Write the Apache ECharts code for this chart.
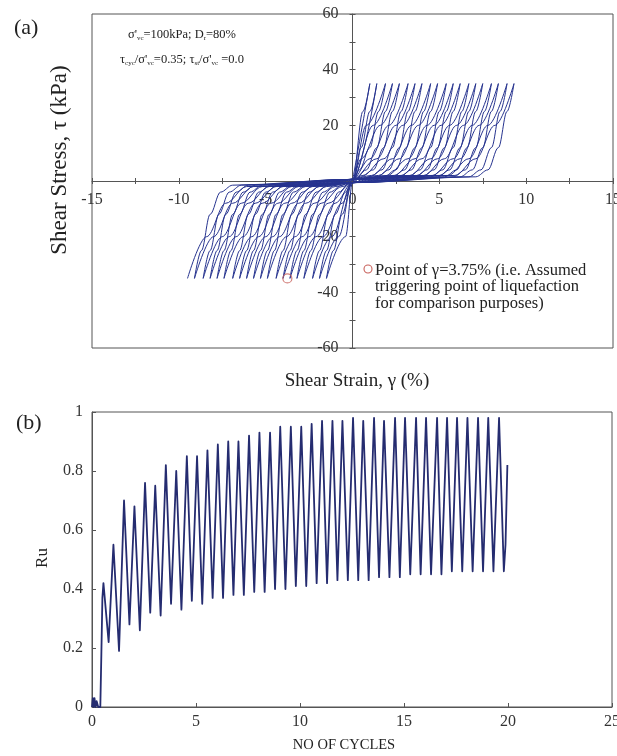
<!DOCTYPE html>
<html>
<head>
<meta charset="utf-8">
<script src="https://cdn.jsdelivr.net/npm/echarts@6/dist/echarts.min.js"></script>
<style>
html,body{margin:0;padding:0;background:#fff;}
#main{width:617px;height:756px;}
</style>
</head>
<body>
<div id="main"></div>
<script>
// ---- (a) shear stress - shear strain loops ----
// strain (%) at each +35 / -35 kPa peak, cycle by cycle
var posPeakStrain = [1.0, 1.4, 1.9, 2.3, 2.7, 3.2, 3.6, 4.0, 4.5, 4.9, 5.4, 5.8, 6.2, 6.7, 7.1, 7.5, 8.0, 8.4, 8.9, 9.3];
var negPeakStrain = [-1.5, -1.9, -2.3, -2.8, -3.2, -3.6, -4.0, -4.4, -4.9, -5.3, -5.7, -6.1, -6.5, -6.9, -7.4, -7.8, -8.2, -8.6, -9.1, -9.5];
// branch shape: strain distance from the peak, |stress|
var leaveDist = [0, 0.4, 0.9, 1.5, 2.2];
var leaveTau = [35, 25, 12, 4, 1.5];
var arriveDist = [3.4, 2.2, 1.1, 0];
var arriveTau = [2, 8, 20, 35];
var zeroCrossTau = 0.6;
var triggerPoint = [[-3.75, -35]];

// ---- (b) Ru - number of cycles ----
var ruStart = [[0, 0], [0.04, 0.03], [0.08, 0.0], [0.12, 0.03], [0.17, 0.0], [0.22, 0.02], [0.3, 0.0], [0.4, 0.0], [0.45, 0.18], [0.5, 0.37]];
var ruPeaks = [[0.55,0.42],[1.03,0.55],[1.54,0.70],[2.04,0.68],[2.55,0.76],[3.04,0.75],[3.55,0.82],[4.05,0.80],[4.56,0.85],[5.05,0.85],
  [5.55,0.87],[6.05,0.89],[6.55,0.90],[7.04,0.90],[7.55,0.92],[8.05,0.93],[8.56,0.93],[9.05,0.95],[9.56,0.95],[10.06,0.95],
  [10.56,0.96],[11.06,0.97],[11.56,0.97],[12.04,0.97],[12.55,0.98],[13.04,0.97],[13.56,0.98],[14.04,0.97],[14.57,0.98],[15.05,0.98],
  [15.58,0.98],[16.06,0.98],[16.59,0.98],[17.07,0.98],[17.55,0.98],[18.05,0.98],[18.56,0.98],[19.05,0.98],[19.57,0.98]];
var ruTroughs = [[0.80,0.22],[1.30,0.19],[1.80,0.28],[2.30,0.26],[2.80,0.32],[3.30,0.31],[3.80,0.35],[4.30,0.33],[4.80,0.36],[5.30,0.35],
  [5.80,0.37],[6.30,0.37],[6.80,0.38],[7.30,0.38],[7.80,0.39],[8.30,0.39],[8.80,0.40],[9.30,0.40],[9.80,0.41],[10.30,0.41],
  [10.80,0.42],[11.30,0.42],[11.80,0.43],[12.30,0.43],[12.80,0.43],[13.30,0.43],[13.80,0.44],[14.30,0.44],[14.80,0.44],[15.30,0.45],
  [15.80,0.45],[16.30,0.45],[16.80,0.45],[17.30,0.46],[17.80,0.46],[18.30,0.46],[18.80,0.46],[19.30,0.46],[19.80,0.46]];
var ruEnd = [[19.88, 0.55], [19.97, 0.82]];

var serif = "'Liberation Serif', 'DejaVu Serif', serif";
var loopColor = '#26338f';
var axisColor = '#555';

// one half cycle: from strain a to the opposite peak b, dir = +1 going right
function halfCycle(a, b, dir, fromPeak){
    var pts = [], k, x;
    if(fromPeak){
        for(k = 0; k < leaveDist.length; k++){
            x = a + dir * leaveDist[k];
            if(k === 0 || dir * x < -0.3) pts.push([x, -dir * leaveTau[k]]);
        }
        pts.push([0, dir * zeroCrossTau]);
    }else{
        pts.push([0, 0]);
    }
    for(k = 0; k < arriveDist.length; k++){
        x = b - dir * arriveDist[k];
        if(k === arriveDist.length - 1 || dir * x > 0.3) pts.push([x, dir * arriveTau[k]]);
    }
    return pts;
}

var loopSeries = [];
var last = 0, started = false;
for(var i = 0; i < posPeakStrain.length; i++){
    loopSeries.push(halfCycle(last, posPeakStrain[i], 1, started));
    started = true;
    loopSeries.push(halfCycle(posPeakStrain[i], negPeakStrain[i], -1, true));
    last = negPeakStrain[i];
}

var ruData = ruStart.slice();
for(var j = 0; j < ruPeaks.length; j++){
    ruData.push(ruPeaks[j]);
    if(ruTroughs[j]) ruData.push(ruTroughs[j]);
}
ruData = ruData.concat(ruEnd);

var series = [];
loopSeries.forEach(function(d){
    series.push({
        type: 'line', xAxisIndex: 0, yAxisIndex: 0, data: d,
        smooth: 0.35, smoothMonotone: 'x', symbol: 'none', silent: true,
        lineStyle: {color: loopColor, width: 1}, z: 3
    });
});
series.push({
    type: 'scatter', xAxisIndex: 0, yAxisIndex: 0, data: triggerPoint,
    symbol: 'circle', symbolSize: 9, z: 5,
    itemStyle: {color: 'rgba(255,255,255,0)', borderColor: '#c8605a', borderWidth: 1.2}
});
series.push({
    type: 'line', xAxisIndex: 4, yAxisIndex: 4, data: ruData,
    symbol: 'none', silent: true,
    lineStyle: {color: '#252c70', width: 1.8, join: 'round'}
});

var tickLabel = {fontFamily: serif, fontSize: 16, color: '#333'};
var tickLine = {lineStyle: {color: axisColor}};

var option = {
    animation: false,
    backgroundColor: '#fff',
    grid: [
        // (a) frame
        {left: 92, top: 14, width: 521, height: 334, show: true, borderColor: axisColor, borderWidth: 1, outerBoundsMode: 'none'},
        // (a) upper half, carries the strain axis along zero stress
        {left: 92, top: 14, width: 521, height: 167, outerBoundsMode: 'none'},
        // (a) right half, carries the stress axis along zero strain
        {left: 352.5, top: 14, width: 260.5, height: 334, outerBoundsMode: 'none'},
        // (b)
        {left: 92, top: 412, width: 520, height: 295, show: true, borderColor: axisColor, borderWidth: 1, outerBoundsMode: 'none'}
    ],
    xAxis: [
        {type: 'value', gridIndex: 0, min: -15, max: 15, show: false},
        {type: 'value', gridIndex: 1, min: -15, max: 15, interval: 2.5, position: 'bottom',
         axisLine: {onZero: false, lineStyle: {color: axisColor}},
         axisTick: Object.assign({length: 3}, tickLine),
         axisLabel: Object.assign({interval: 0, margin: 11, showMinLabel: true, showMaxLabel: true,
            formatter: function(v){ return (v % 5 === 0) ? String(v) : ''; }}, tickLabel),
         splitLine: {show: false}},
        {type: 'value', gridIndex: 1, min: -15, max: 15, interval: 2.5, position: 'bottom',
         axisLine: {show: false, onZero: false},
         axisTick: Object.assign({inside: true, length: 3}, tickLine),
         axisLabel: {show: false}, splitLine: {show: false}},
        {type: 'value', gridIndex: 2, min: 0, max: 1, show: false},
        {type: 'value', gridIndex: 3, min: 0, max: 25, interval: 5,
         axisLine: {lineStyle: {color: axisColor}},
         axisTick: Object.assign({inside: true, length: 4}, tickLine),
         axisLabel: Object.assign({margin: 7, showMaxLabel: true}, tickLabel),
         splitLine: {show: false}}
    ],
    yAxis: [
        {type: 'value', gridIndex: 0, min: -60, max: 60, show: false},
        {type: 'value', gridIndex: 1, min: 0, max: 1, show: false},
        {type: 'value', gridIndex: 2, min: -60, max: 60, interval: 10, position: 'left',
         axisLine: {onZero: false, lineStyle: {color: axisColor}},
         axisTick: Object.assign({length: 3}, tickLine),
         axisLabel: Object.assign({interval: 0, margin: 14, showMinLabel: true, showMaxLabel: true,
            formatter: function(v){ return (v % 20 === 0 && v !== 0) ? String(v) : ''; }}, tickLabel),
         splitLine: {show: false}},
        {type: 'value', gridIndex: 2, min: -60, max: 60, interval: 10, position: 'left',
         axisLine: {show: false, onZero: false},
         axisTick: Object.assign({inside: true, length: 3}, tickLine),
         axisLabel: {show: false}, splitLine: {show: false}},
        {type: 'value', gridIndex: 3, min: 0, max: 1, interval: 0.2,
         axisLine: {lineStyle: {color: axisColor}},
         axisTick: Object.assign({inside: true, length: 4}, tickLine),
         axisLabel: Object.assign({margin: 9, formatter: function(v){ return String(Math.round(v * 10) / 10); }}, tickLabel),
         splitLine: {show: false}}
    ],
    graphic: [
        {type: 'text', x: 14, y: 28, style: {text: '(a)', font: '22px ' + serif, fill: '#222', verticalAlign: 'middle'}},
        {type: 'text', x: 16, y: 423, style: {text: '(b)', font: '22px ' + serif, fill: '#222', verticalAlign: 'middle'}},
        {type: 'text', x: 182, y: 35, style: {
            text: "σ'{s|vc}=100kPa; D{s|r}=80%",
            font: '12.5px ' + serif, fill: '#222', align: 'center', verticalAlign: 'middle',
            rich: {s: {fontSize: 7, fontFamily: serif, verticalAlign: 'bottom', lineHeight: 7}}}},
        {type: 'text', x: 182, y: 60, style: {
            text: "τ{s|cyc}/σ'{s|vc}=0.35; τ{s|st}/σ'{s|vc} =0.0",
            font: '12.5px ' + serif, fill: '#222', align: 'center', verticalAlign: 'middle',
            rich: {s: {fontSize: 7, fontFamily: serif, verticalAlign: 'bottom', lineHeight: 7}}}},
        {type: 'circle', shape: {cx: 368, cy: 269, r: 4}, style: {fill: 'none', stroke: '#c8605a', lineWidth: 1.1}},
        {type: 'text', x: 375, y: 262, style: {
            text: 'Point of γ=3.75% (i.e. Assumed\ntriggering point of liquefaction\nfor comparison purposes)',
            font: '16.5px ' + serif, fill: '#222', lineHeight: 16.5}},
        {type: 'text', x: 357, y: 381, style: {text: 'Shear Strain, γ (%)', font: '19px ' + serif, fill: '#222', align: 'center', verticalAlign: 'middle'}},
        {type: 'text', x: 60, y: 160, rotation: Math.PI / 2, style: {text: 'Shear Stress, τ (kPa)', font: '23px ' + serif, fill: '#222', align: 'center', verticalAlign: 'middle'}},
        {type: 'text', x: 43, y: 558, rotation: Math.PI / 2, style: {text: 'Ru', font: '17px ' + serif, fill: '#222', align: 'center', verticalAlign: 'middle'}},
        {type: 'text', x: 344, y: 745, style: {text: 'NO OF CYCLES', font: '14.5px ' + serif, fill: '#222', align: 'center', verticalAlign: 'middle'}}
    ],
    series: series
};

var chart = echarts.init(document.getElementById('main'), null, {renderer: 'canvas'});
chart.setOption(option);
</script>
</body>
</html>
